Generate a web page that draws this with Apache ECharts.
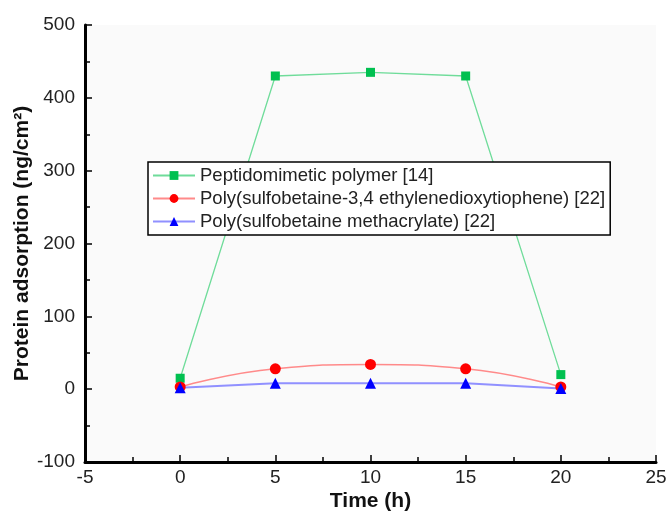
<!DOCTYPE html>
<html><head><meta charset="utf-8">
<script src="https://cdn.jsdelivr.net/npm/echarts@6/dist/echarts.min.js"></script>
<style>html,body{margin:0;padding:0;background:#fff}#c{width:666px;height:512px}</style>
</head><body><div id="c"></div>
<script>
const timeH = [0, 5, 10, 15, 20];
const peptidomimetic = [15, 430, 435, 430, 20];
const polySBEDOT = [3, 28, 34, 28, 3];
const polySBMA = [2, 8, 8, 8, 1];
const seriesNames = ['Peptidomimetic polymer [14]', 'Poly(sulfobetaine-3,4 ethylenedioxytiophene) [22]', 'Poly(sulfobetaine methacrylate) [22]'];

const pairs = v => timeH.map((t, i) => [t, v[i]]);
const font = 'Liberation Sans, Arial, sans-serif';
const chart = echarts.init(document.getElementById('c'));
chart.setOption({
  backgroundColor: '#fff',
  animation: false,
  grid: { left: 85, right: 10, top: 25, bottom: 50, outerBoundsMode: 'none', containLabel: false,
    backgroundColor: '#fafafa', show: true, borderWidth: 0 },
  xAxis: {
    type: 'value', min: -5, max: 25, interval: 5,
    name: 'Time (h)', nameLocation: 'middle', nameGap: 29, nameMoveOverlap: false,
    nameTextStyle: { fontFamily: font, fontWeight: 'bold', fontSize: 21, color: '#111' },
    axisLine: { onZero: false, lineStyle: { color: '#000', width: 3 } },
    axisTick: { inside: true, length: 7, lineStyle: { color: '#000', width: 1.5 } },
    minorTick: { show: true, splitNumber: 2, length: 5, lineStyle: { color: '#000', width: 1.5 } },
    axisLabel: { fontFamily: font, fontSize: 19, color: '#222', margin: 6 },
    splitLine: { show: false }
  },
  yAxis: {
    type: 'value', min: -100, max: 500, interval: 100,
    name: 'Protein adsorption (ng/cm²)', nameLocation: 'middle', nameGap: 52, nameMoveOverlap: false,
    nameTextStyle: { fontFamily: font, fontWeight: 'bold', fontSize: 21, color: '#111' },
    axisLine: { show: true, onZero: false, lineStyle: { color: '#000', width: 3 } },
    axisTick: { show: true, inside: true, length: 7, lineStyle: { color: '#000', width: 1.5 } },
    minorTick: { show: true, splitNumber: 2, length: 5, lineStyle: { color: '#000', width: 1.5 } },
    axisLabel: { fontFamily: font, fontSize: 19, color: '#222', margin: 10 },
    splitLine: { show: false }
  },
  legend: {
    orient: 'vertical', left: 148, top: 162, itemGap: 4, itemWidth: 42, itemHeight: 11,
    borderColor: '#000', borderWidth: 1.5, padding: [4, 5, 4, 4], backgroundColor: '#fff',
    textStyle: { fontFamily: font, fontSize: 18.5, color: '#222' },
    data: seriesNames
  },
  series: [
    { name: seriesNames[0], type: 'line', data: pairs(peptidomimetic), symbol: 'rect', symbolSize: 9,
      lineStyle: { color: '#6fdc9a', width: 1.3 }, itemStyle: { color: '#00c050' } },
    { name: seriesNames[1], type: 'line', data: pairs(polySBEDOT), symbol: 'circle', symbolSize: 11, smooth: true,
      lineStyle: { color: '#ff8a8a', width: 1.5 }, itemStyle: { color: '#ff0000' } },
    { name: seriesNames[2], type: 'line', data: pairs(polySBMA), symbol: 'triangle', symbolSize: 11,
      lineStyle: { color: '#9090ff', width: 2 }, itemStyle: { color: '#0000ff' } }
  ]
});
</script></body></html>
